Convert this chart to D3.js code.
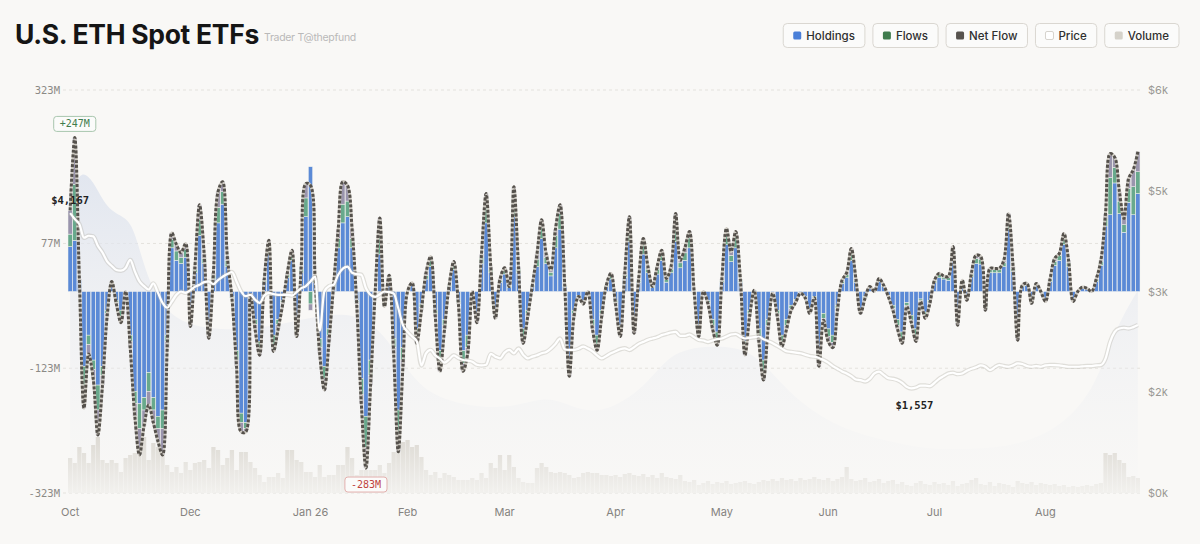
<!DOCTYPE html>
<html>
<head>
<meta charset="utf-8">
<script src="https://cdn.jsdelivr.net/npm/d3@7"></script>
<style>
  body { margin: 0; background: #f9f8f6; }
  svg { display: block; font-family: Inter, "Noto Sans", sans-serif; }
</style>
</head>
<body>
<svg id="chart" width="1200" height="544"></svg>
<script>
// daily net flow, $M (one value per trading day)
const netFlow = [
  130,247,20,-187,-100,-140,-230,-150,-40,16,-20,-50,0,-90,-200,-262,-215,-182,-210,-240,
  -262,-90,94,75,62,77,-56,40,139,60,-75,30,160,176,56,-10,-120,-225,-225,-5,
  -60,-102,20,82,-96,-60,-20,30,66,-72,40,173,170,20,-100,-158,-80,10,100,176,
  170,100,-20,-180,-283,-150,0,118,-24,26,-100,-257,-120,0,14,-83,-30,30,56,-40,
  -128,-60,10,48,-20,-128,-100,0,-50,60,157,40,-43,20,38,8,168,40,-83,-40,
  10,60,115,60,35,100,139,10,-136,-40,-8,-20,0,-60,-94,-40,10,29,-20,-72,
  30,120,-67,20,85,40,8,40,66,21,40,125,50,70,96,0,-72,0,-20,-60,
  -86,20,101,64,96,20,-102,-40,2,-80,-142,-60,-3,-40,-88,-60,-30,-17,-3,-10,
  -35,-10,-120,-46,-80,-90,-30,18,30,69,20,-35,-10,8,0,21,10,-8,-30,-60,
  -83,-24,-50,-80,-16,-43,-19,18,29,25,24,72,-54,18,-14,30,58,56,-30,37,
  37,37,50,125,40,-78,10,13,-19,13,0,-16,20,53,61,93,50,-16,0,7,
  5,0,20,50,125,221,215,160,117,181,195,224
];

// blue part of each bar, $M
const holdings = [
  72,82,18,-120,-70,-110,-150,-120,-30,10,-15,-30,0,-70,-160,-180,-170,-130,-170,-200,
  -190,-70,70,50,45,55,-40,30,90,45,-60,20,110,140,40,-8,-95,-195,-210,-4,
  -45,-80,15,60,-70,-45,-15,22,50,-55,30,120,200,15,-75,-120,-60,8,70,110,
  120,70,-15,-140,-200,-110,0,60,-18,20,-75,-190,-90,0,10,-60,-20,20,40,-30,
  -95,-45,8,35,-15,-95,-70,0,-35,45,110,30,-30,15,28,6,120,30,-60,-30,
  8,40,85,45,25,70,100,8,-110,-30,-6,-15,0,-45,-70,-30,8,20,-15,-55,
  22,80,-50,15,60,30,6,28,50,15,30,80,38,50,70,0,-55,0,-15,-45,
  -65,15,75,48,70,15,-80,-30,2,-60,-110,-45,-2,-30,-70,-45,-22,-13,-2,-8,
  -27,-8,-95,-35,-60,-70,-22,13,22,50,15,-27,-8,6,0,16,8,-6,-22,-45,
  -65,-18,-38,-60,-12,-33,-14,14,22,20,18,55,-42,14,-10,24,45,44,-22,30,
  30,30,40,100,32,-60,8,10,-14,10,0,-12,16,42,50,75,40,-12,0,5,
  4,0,16,42,105,123,174,125,95,143,123,157
];

// green part of each bar, $M
const flows = [
  20,90,0,-30,-15,-15,-40,-15,-5,3,-3,-10,0,-10,-20,-40,-20,-30,-20,-20,
  -30,-10,14,15,10,12,-8,6,25,8,-8,6,25,20,10,-2,-15,-15,-10,0,
  -8,-12,3,12,-15,-8,-3,5,8,-10,6,30,-20,3,-15,-20,-10,2,15,30,
  25,15,-3,-25,-50,-25,0,45,-4,4,-15,-40,-20,0,2,-15,-6,6,10,-6,
  -20,-10,2,8,-3,-20,-20,0,-10,10,30,6,-8,3,6,2,30,6,-15,-6,
  2,12,20,10,6,20,25,2,-15,-6,-2,-3,0,-10,-15,-6,2,6,-3,-10,
  5,25,-10,3,18,6,2,8,10,4,6,30,8,12,16,0,-12,0,-3,-10,
  -15,3,18,10,18,3,-15,-6,0,-12,-20,-10,0,-6,-12,-10,-5,-2,0,-2,
  -5,-2,-15,-8,-12,-12,-5,3,5,12,3,-5,-2,1,0,3,2,-1,-5,-10,
  -12,-4,-8,-12,-3,-6,-3,3,5,3,4,10,-8,3,-2,4,8,8,-5,5,
  5,5,6,15,5,-12,1,2,-3,2,0,-3,3,6,8,12,6,-3,0,1,
  1,0,3,6,12,60,25,20,12,22,45,35
];

// ETH price, $
const price = [
  4167,4080,4000,3800,3830,3820,3680,3580,3450,3380,3320,3310,3350,3470,3300,3150,3080,3030,3120,2980,
  2830,2760,2850,2950,3000,2980,3020,3070,3100,3140,3150,3110,3170,3220,3260,3290,3150,3000,2930,2950,
  2880,2830,2940,2980,2960,2950,2950,2950,2940,2990,3050,3080,3150,3220,2420,3000,3080,3100,3250,3340,
  3370,3280,3260,3250,3050,2950,2920,2960,3000,2990,2970,2750,2500,2400,2330,2260,1900,2080,2130,2050,
  2000,1940,1990,2050,2010,1980,1970,1955,1910,1900,1910,2070,2030,2005,2090,2130,2080,2150,2060,2005,
  2030,2050,2080,2100,2150,2220,2300,2140,2130,2130,2150,2180,2150,2110,2050,2005,2040,2080,2110,2140,
  2154,2130,2170,2220,2250,2280,2300,2320,2350,2370,2390,2400,2340,2340,2360,2320,2280,2270,2250,2270,
  2290,2300,2330,2360,2367,2330,2300,2310,2320,2330,2290,2260,2230,2190,2150,2110,2100,2090,2080,2060,
  2040,2030,2010,1980,1940,1890,1850,1810,1780,1740,1690,1680,1660,1700,1780,1806,1760,1710,1700,1680,
  1640,1580,1557,1570,1600,1600,1590,1640,1700,1740,1780,1790,1770,1780,1820,1850,1870,1900,1880,1830,
  1870,1906,1890,1880,1900,1930,1920,1890,1880,1890,1880,1900,1906,1905,1900,1890,1880,1880,1880,1885,
  1890,1890,1900,1906,2000,2250,2400,2450,2460,2450,2470,2500
];

// trading volume, $M
const volume = [
  1750,1500,2300,2000,1500,2400,2800,1650,1500,1650,1500,1050,1750,1900,2000,1900,2800,1650,2500,2300,
  2150,1400,1050,1300,1000,1550,1150,1500,1550,1650,1250,2300,2150,1400,1750,2150,1150,2050,2050,1550,
  1250,900,550,800,800,1000,750,2150,2150,1650,1550,1050,1050,800,1400,800,900,900,1400,1400,
  2300,1750,900,1150,1150,1150,1150,1400,1000,1500,2050,2500,2550,2650,2300,2400,1800,1150,900,1050,
  750,1000,900,800,650,650,650,750,650,1000,750,1500,1250,1900,1150,1900,1300,750,550,500,
  500,1250,1500,1300,1050,1000,1050,1000,900,750,800,1000,1050,1000,1000,900,900,850,900,800,
  950,1000,900,850,950,800,900,750,1000,800,750,700,900,600,550,650,400,500,600,450,
  550,500,600,450,500,550,600,500,450,550,650,600,700,600,750,650,700,600,750,650,
  700,800,700,650,750,600,700,800,1300,700,600,650,750,550,600,700,500,600,650,450,
  550,400,350,500,600,450,400,550,450,500,400,600,350,450,500,650,750,450,400,550,
  350,500,450,400,300,600,500,450,550,400,500,450,400,450,350,400,300,350,300,350,
  400,350,450,500,2000,1900,2000,1650,1500,800,850,750
];

// faint background band (on the price axis)
const shadeDays   = [0,2,5,8,12,14,17,22,30,40,50,60,68,75,85,95,103,108,115,125,130,140,148,155,165,175,185,195,205,215,222,226,231];
const shadeLevels = [4290,4840,4660,4210,4110,3915,3100,2580,2430,2430,2580,2720,2430,1530,1300,1250,1450,1300,1150,1600,2130,2200,2130,1500,1000,800,650,650,700,1000,1600,2430,3020];

const tickDays   = [0, 26, 52, 73, 94, 118, 141, 164, 187, 211];
const tickLabels = ['Oct', 'Dec', 'Jan 26', 'Feb', 'Mar', 'Apr', 'May', 'Jun', 'Jul', 'Aug'];
const flowTicks  = [323, 77, -123, -323];
const priceTicks = [0, 1500, 3000, 4500, 6000];

const legendItems = [
  { label: 'Holdings', color: '#4a7fd8' },
  { label: 'Flows',    color: '#3f7c4d' },
  { label: 'Net Flow', color: '#57534e' },
  { label: 'Price',    color: '#ffffff' },
  { label: 'Volume',   color: '#d5d2ca' }
];

const seriesColor = { holdings: '#5b8ad6', flows: '#68a98c', other: '#9a95ad' };

const svg = d3.select('#chart');
const plotLeft = 68, plotRight = 1140, plotTop = 90, plotBottom = 493;
const mono = '"DejaVu Sans Mono", "Liberation Mono", monospace';

const days = d3.range(netFlow.length);

const x = d3.scaleBand()
    .domain(days)
    .range([plotLeft, plotRight])
    .paddingInner(0.08);
const xc = i => x(i) + x.bandwidth() / 2;

const yFlow = d3.scaleLinear().domain([-323, 323]).range([plotBottom, plotTop]);
const yPrice = d3.scaleLinear().domain([0, 6000]).range([plotBottom, plotTop]);
const yVol = d3.scaleLinear().domain([0, 5000]).range([plotBottom, plotBottom - 100]);

const defs = svg.append('defs');

const shadeGrad = defs.append('linearGradient')
    .attr('id', 'shadeGrad')
    .attr('gradientUnits', 'userSpaceOnUse')
    .attr('x1', 0).attr('x2', 0).attr('y1', 160).attr('y2', plotBottom);
shadeGrad.append('stop').attr('offset', 0).attr('stop-color', '#dde3ee').attr('stop-opacity', 0.9);
shadeGrad.append('stop').attr('offset', 0.5).attr('stop-color', '#e6e9f0').attr('stop-opacity', 0.45);
shadeGrad.append('stop').attr('offset', 1).attr('stop-color', '#eef0f3').attr('stop-opacity', 0.05);

const volGrad = defs.append('linearGradient')
    .attr('id', 'volGrad')
    .attr('gradientUnits', 'userSpaceOnUse')
    .attr('x1', 0).attr('x2', 0).attr('y1', 440).attr('y2', plotBottom);
volGrad.append('stop').attr('offset', 0).attr('stop-color', '#dedbd5');
volGrad.append('stop').attr('offset', 1).attr('stop-color', '#f2f1ee');

// title
svg.append('text')
    .attr('x', 15)
    .attr('y', 44)
    .attr('font-size', '26.5px')
    .attr('font-weight', 700)
    .attr('letter-spacing', '-0.3px')
    .attr('fill', '#151515')
    .text('U.S. ETH Spot ETFs');

svg.append('text')
    .attr('x', 264)
    .attr('y', 41)
    .attr('font-size', '10.5px')
    .attr('fill', '#b9b9b9')
    .attr('letter-spacing', '-0.3px')
    .text('Trader T@thepfund');

// legend, laid out from the right edge
const legend = svg.append('g');
let legendX = 1179;
legendItems.slice().reverse().forEach(item => {
    const g = legend.append('g');
    const t = g.append('text')
        .attr('y', 39.5)
        .attr('font-size', '11.5px')
        .attr('font-weight', 500)
        .attr('fill', '#2f2f2f')
        .text(item.label);
    const w = t.node().getComputedTextLength() + 33;
    legendX -= w;
    g.insert('rect', 'text')
        .attr('x', legendX).attr('y', 23.5)
        .attr('width', w).attr('height', 24)
        .attr('rx', 4)
        .attr('fill', '#fbfbfa')
        .attr('stroke', '#dad7d1');
    g.append('rect')
        .attr('x', legendX + 10).attr('y', 31.5)
        .attr('width', 8).attr('height', 8)
        .attr('rx', 1.5)
        .attr('fill', item.color)
        .attr('stroke', item.label === 'Price' ? '#d6d3cd' : 'none');
    t.attr('x', legendX + 23);
    legendX -= 8;
});

// gridlines
svg.append('g')
    .selectAll('line')
    .data(flowTicks)
    .enter()
    .append('line')
    .attr('x1', 63).attr('x2', plotRight)
    .attr('y1', d => yFlow(d)).attr('y2', d => yFlow(d))
    .attr('stroke', '#e4e2dd')
    .attr('stroke-dasharray', '3,3');

// faint band behind everything
const shadeArea = d3.area()
    .x((d, k) => xc(shadeDays[k]))
    .y0(plotBottom)
    .y1(d => yPrice(d))
    .curve(d3.curveBasis);

svg.append('path')
    .datum(shadeLevels)
    .attr('d', shadeArea)
    .attr('fill', 'url(#shadeGrad)');

// volume bars
svg.append('g')
    .selectAll('rect')
    .data(days)
    .enter()
    .append('rect')
    .attr('x', i => x(i))
    .attr('width', x.bandwidth())
    .attr('y', i => yVol(volume[i]))
    .attr('height', i => plotBottom - yVol(volume[i]))
    .attr('fill', 'url(#volGrad)');

// stacked flow bars
const rows = days.map(i => ({
    holdings: holdings[i],
    flows: flows[i],
    other: netFlow[i] - holdings[i] - flows[i]
}));

const stacked = d3.stack()
    .keys(['holdings', 'flows', 'other'])
    .offset(d3.stackOffsetDiverging)(rows);

svg.append('g')
    .selectAll('g')
    .data(stacked)
    .enter()
    .append('g')
    .attr('fill', s => seriesColor[s.key])
    .selectAll('rect')
    .data(s => s.map((d, i) => ({ d, i })))
    .enter()
    .append('rect')
    .attr('x', p => x(p.i))
    .attr('width', x.bandwidth())
    .attr('y', p => yFlow(Math.max(p.d[0], p.d[1])))
    .attr('height', p => Math.abs(yFlow(p.d[0]) - yFlow(p.d[1])))
    .attr('stroke', '#f4f3f0')
    .attr('stroke-width', 0.5);

// net flow curve
const netLine = d3.line()
    .x(i => xc(i))
    .y(i => yFlow(netFlow[i]))
    .curve(d3.curveCatmullRom.alpha(0.5));

svg.append('path')
    .datum(days)
    .attr('d', netLine)
    .attr('fill', 'none')
    .attr('stroke', '#cfcbc3')
    .attr('stroke-width', 3);

svg.append('path')
    .datum(days)
    .attr('d', netLine)
    .attr('fill', 'none')
    .attr('stroke', '#55514c')
    .attr('stroke-width', 3)
    .attr('stroke-dasharray', '3,1.8');

// price line
const priceLine = d3.line()
    .x(i => xc(i))
    .y(i => yPrice(price[i]))
    .curve(d3.curveMonotoneX);

svg.append('path')
    .datum(days)
    .attr('d', priceLine)
    .attr('fill', 'none')
    .attr('stroke', '#b9b6b0')
    .attr('stroke-opacity', 0.4)
    .attr('stroke-width', 4.5);

svg.append('path')
    .datum(days)
    .attr('d', priceLine)
    .attr('fill', 'none')
    .attr('stroke', '#ffffff')
    .attr('stroke-width', 2.2);

// axes
const leftAxis = svg.append('g')
    .attr('transform', 'translate(60,0)')
    .call(d3.axisLeft(yFlow).tickValues(flowTicks).tickSize(0).tickPadding(0).tickFormat(d => d + 'M'));

const rightAxis = svg.append('g')
    .attr('transform', 'translate(1148,0)')
    .call(d3.axisRight(yPrice).tickValues(priceTicks).tickSize(0).tickPadding(0)
        .tickFormat(d => '$' + Math.round(d / 1000) + 'k'));

const bottomAxis = svg.append('g')
    .attr('transform', 'translate(0,508)')
    .call(d3.axisBottom(x).tickValues(tickDays).tickSize(0).tickPadding(0)
        .tickFormat((d, k) => tickLabels[k]));

[leftAxis, rightAxis, bottomAxis].forEach(a => a.select('.domain').remove());

leftAxis.selectAll('text')
    .attr('font-family', mono)
    .attr('font-size', '10.5px')
    .attr('fill', '#8c8a86');

rightAxis.selectAll('text')
    .attr('font-family', 'Inter, "Noto Sans", sans-serif')
    .attr('font-size', '11px')
    .attr('fill', '#9a9894');

bottomAxis.selectAll('text')
    .attr('font-family', 'Inter, "Noto Sans", sans-serif')
    .attr('font-size', '11px')
    .attr('fill', '#85837f');

// extreme flow badges
const maxDay = d3.maxIndex(netFlow);
const minDay = d3.minIndex(netFlow);

function badge(day, yTop, label, stroke, color) {
    const g = svg.append('g');
    const t = g.append('text')
        .attr('x', xc(day))
        .attr('y', yTop + 11)
        .attr('text-anchor', 'middle')
        .attr('font-family', mono)
        .attr('font-size', '10px')
        .attr('fill', color)
        .text(label);
    const w = t.node().getComputedTextLength() + 12;
    g.insert('rect', 'text')
        .attr('x', xc(day) - w / 2)
        .attr('y', yTop)
        .attr('width', w)
        .attr('height', 15)
        .attr('rx', 3)
        .attr('fill', '#fbfbfa')
        .attr('stroke', stroke);
}

badge(maxDay, yFlow(netFlow[maxDay]) - 21, '+' + netFlow[maxDay] + 'M', '#a9c6ae', '#3f7c4d');
badge(minDay, yFlow(netFlow[minDay]) + 9, netFlow[minDay] + 'M', '#e3b1ae', '#c0443f');

// price labels
const fmt = d3.format(',');
const minPriceDay = d3.minIndex(price);

svg.append('text')
    .attr('x', xc(0))
    .attr('y', yPrice(price[0]) - 9)
    .attr('text-anchor', 'middle')
    .attr('font-family', mono)
    .attr('font-size', '10.5px')
    .attr('font-weight', 700)
    .attr('fill', '#222')
    .text('$' + fmt(price[0]));

svg.append('text')
    .attr('x', xc(minPriceDay) + 3)
    .attr('y', yPrice(price[minPriceDay]) + 21)
    .attr('text-anchor', 'middle')
    .attr('font-family', mono)
    .attr('font-size', '10.5px')
    .attr('font-weight', 700)
    .attr('fill', '#222')
    .text('$' + fmt(price[minPriceDay]));
</script>
</body>
</html>
